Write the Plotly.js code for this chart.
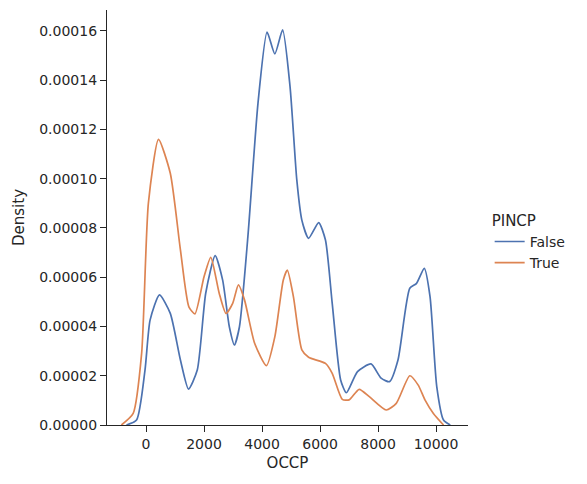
<!DOCTYPE html>
<html>
<head>
<meta charset="utf-8">
<script src="https://cdn.plot.ly/plotly-3.0.1.min.js"></script>
<style>body{margin:0;background:#fff}</style>
</head>
<body>
<div id="chart" style="width:587px;height:484px"></div>
<script>
// KDE curves
var falseX = [-674,-326,-35,140,465,837,1186,1465,1767,2058,2384,2640,2872,3047,3221,3512,3860,4174,4442,4709,4965,5198,5372,5605,5953,6186,6419,6709,6907,7291,7756,8105,8395,8686,9093,9326,9593,9791,10023,10256,10488];
var falseY = [0,0.000002,0.0000223,0.0000426,0.0000528,0.0000453,0.0000264,0.0000146,0.0000223,0.0000535,0.0000688,0.0000589,0.0000399,0.0000325,0.0000399,0.0000765,0.0001306,0.0001595,0.0001507,0.0001604,0.0001374,0.0000995,0.0000832,0.0000758,0.0000822,0.0000751,0.0000494,0.0000183,0.0000131,0.0000217,0.0000248,0.000019,0.0000176,0.0000264,0.0000555,0.0000575,0.0000636,0.0000521,0.0000156,0.000002,0];
var trueX = [-849,-442,-151,81,430,837,1186,1477,1686,2000,2233,2523,2756,2988,3186,3395,3744,4151,4442,4733,4872,5081,5372,5605,6186,6419,6767,7000,7349,7698,8279,8628,9093,9384,9616,9907,10256];
var trueY = [0,0.0000047,0.0000291,0.00009,0.000116,0.0001022,0.0000711,0.000048,0.0000451,0.0000602,0.0000681,0.0000535,0.0000453,0.0000494,0.0000569,0.0000508,0.0000332,0.0000241,0.0000359,0.0000589,0.0000629,0.0000521,0.0000305,0.0000275,0.000025,0.000021,0.0000104,0.0000102,0.0000145,0.0000115,0.0000061,0.0000088,0.00002,0.0000162,0.0000102,0.0000047,0];
var xTicks = [0, 2000, 4000, 6000, 8000, 10000];
var xTickText = ['0', '2000', '4000', '6000', '8000', '10000'];

var traces = [
    {x: falseX, y: falseY, name: 'False', mode: 'lines', line: {color: '#4c72b0', width: 1.7, shape: 'spline', smoothing: 0.6}},
    {x: trueX, y: trueY, name: 'True', mode: 'lines', line: {color: '#dd8452', width: 1.7, shape: 'spline', smoothing: 0.6}}
];

var axisStyle = {
    showgrid: false, zeroline: false, showline: true, linecolor: '#262626', linewidth: 1.3,
    ticks: 'outside', ticklen: 6, tickwidth: 1.3, tickcolor: '#262626',
    tickfont: {size: 14, color: '#262626'}
};

var layout = {
    width: 587, height: 484,
    margin: {l: 107, r: 119, t: 10, b: 59},
    paper_bgcolor: '#fff', plot_bgcolor: '#fff',
    font: {family: 'DejaVu Sans', color: '#262626'},
    xaxis: Object.assign({}, axisStyle, {
        range: [-1345, 11100], tickvals: xTicks, ticktext: xTickText,
        title: {text: 'OCCP', font: {size: 15}, standoff: 6}
    }),
    yaxis: Object.assign({}, axisStyle, {
        range: [0, 0.0001685], dtick: 0.00002, tickformat: '.5f',
        title: {text: 'Density', font: {size: 15}, standoff: 10}
    }),
    legend: {
        x: 1.06, y: 0.44, yanchor: 'middle', xanchor: 'left',
        title: {text: 'PINCP', font: {size: 15}},
        font: {size: 14}
    },
    showlegend: true
};

Plotly.newPlot('chart', traces, layout, {displayModeBar: false});
</script>
</body>
</html>
